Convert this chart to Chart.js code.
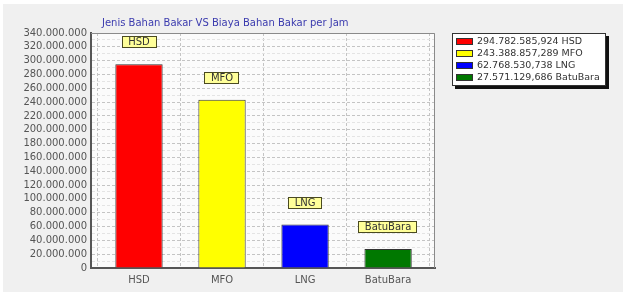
<!DOCTYPE html>
<html>
<head>
<meta charset="utf-8">
<script src="https://cdn.jsdelivr.net/npm/chart.js@4.4.1/dist/chart.umd.min.js"></script>
<style>
  html, body { margin: 0; padding: 0; background: #ffffff; }
  #wrap { width: 623px; height: 292px; }
</style>
</head>
<body>
<div id="wrap"><canvas id="graf" width="623" height="292"></canvas></div>
<script>
// data
var kategori = ['HSD', 'MFO', 'LNG', 'BatuBara'];
var biaya = [294782585.924, 243388857.289, 62768530.738, 27571129.686];
var warna = ['#ff0000', '#ffff00', '#0000ff', '#007800'];
var judul = 'Jenis Bahan Bakar VS Biaya Bahan Bakar per Jam';
var yMax = 340000000;
var yStep = 20000000;

var FONT = '"DejaVu Sans", Verdana, sans-serif';

function angka(v, des) { // format id: 1.234.567,890
    var s = des ? v.toFixed(des) : Math.round(v).toString();
    var p = s.split('.');
    var depan = p[0].replace(/\B(?=(\d{3})+(?!\d))/g, '.');
    return p.length > 1 ? depan + ',' + p[1] : depan;
}

var titik = kategori.map(function (k, i) {
    return { x: i, y: biaya[i] };
});

var latar = {
    id: 'latar',
    beforeDraw: function (chart) {
        var c = chart.ctx, a = chart.chartArea;
        c.save();
        c.fillStyle = '#ffffff';
        c.fillRect(0, 0, chart.width, chart.height);
        c.fillStyle = '#f0f0f0';
        c.fillRect(3, 4, chart.width - 3, chart.height - 4);
        c.fillStyle = '#fbfbfb';
        c.fillRect(a.left, a.top, a.right - a.left, a.bottom - a.top);
        c.restore();
    },
    afterDraw: function (chart) {
        var c = chart.ctx, a = chart.chartArea;
        c.save();
        // bingkai atas / kanan
        c.strokeStyle = '#8a8a8a';
        c.lineWidth = 1;
        c.beginPath();
        c.moveTo(a.left, a.top + 0.5);
        c.lineTo(a.right - 0.5, a.top + 0.5);
        c.lineTo(a.right - 0.5, a.bottom);
        c.stroke();

        // judul
        c.font = '10px ' + FONT;
        c.fillStyle = '#3a3aae';
        c.textBaseline = 'middle';
        c.textAlign = 'left';
        c.fillText(judul, a.left + 11, 23);

        // legenda
        var lx = 452, ly = 33, lw = 154, lh = 53;
        c.fillStyle = '#111111';
        c.fillRect(lx + 3, ly + 3, lw, lh);
        c.fillStyle = '#ffffff';
        c.fillRect(lx, ly, lw, lh);
        c.strokeStyle = '#333333';
        c.strokeRect(lx + 0.5, ly + 0.5, lw - 1, lh - 1);
        for (var i = 0; i < kategori.length; i++) {
            var yy = ly + 8 + i * 12;
            c.fillStyle = warna[i];
            c.fillRect(lx + 4, yy - 3, 17, 7);
            c.strokeStyle = '#333333';
            c.strokeRect(lx + 4.5, yy - 2.5, 16, 6);
            c.fillStyle = '#333333';
            c.font = '9.5px ' + FONT;
            c.fillText(angka(biaya[i], 3) + ' ' + kategori[i], lx + 25, yy + 0.5);
        }
        c.restore();
    }
};

var labelBatang = {
    id: 'labelBatang',
    afterDatasetsDraw: function (chart) {
        var c = chart.ctx;
        var meta = chart.getDatasetMeta(0);
        c.save();
        c.font = '10px ' + FONT;
        c.textAlign = 'center';
        c.textBaseline = 'middle';
        meta.data.forEach(function (bar, i) {
            var teks = kategori[i];
            var w = c.measureText(teks).width + 13;
            var h = 12;
            var cx = bar.x, cy = bar.y - 22;
            c.fillStyle = '#ffff99';
            c.fillRect(Math.round(cx - w / 2), Math.round(cy - h / 2), Math.round(w), h);
            c.strokeStyle = '#4a4a20';
            c.lineWidth = 1;
            c.strokeRect(Math.round(cx - w / 2) + 0.5, Math.round(cy - h / 2) + 0.5, Math.round(w) - 1, h - 1);
            c.fillStyle = '#333333';
            c.fillText(teks, cx, cy + 0.5);
        });
        c.restore();
    }
};

function tickVal(c) {
    return (c && c.tick) ? c.tick.value : null;
}

var ctx = document.getElementById('graf').getContext('2d');
var myChart = new Chart(ctx, {
    type: 'bar',
    data: {
        datasets: [{
            label: judul,
            data: titik,
            backgroundColor: warna,
            borderColor: '#333333',
            borderWidth: 1,
            barPercentage: 0.57,
            categoryPercentage: 1
        }]
    },
    options: {
        responsive: false,
        animation: false,
        devicePixelRatio: 1,
        layout: { padding: { top: 33, right: 188, bottom: 0, left: 0 } },
        plugins: {
            legend: { display: false },
            title: { display: false },
            tooltip: { enabled: false }
        },
        scales: {
            x: {
                type: 'linear',
                offset: false,
                min: -0.578,
                max: 3.565,
                afterFit: function (s) { s.height = 24; },
                border: { display: true, color: '#555555', width: 2, dash: [3, 2] },
                grid: {
                    drawTicks: false,
                    color: '#c4c4c4'
                },
                ticks: {
                    stepSize: 1,
                    includeBounds: false,
                    autoSkip: false,
                    maxRotation: 0,
                    padding: 6,
                    color: '#555555',
                    font: { family: FONT, size: 10 },
                    callback: function (v) {
                        return Number.isInteger(v) ? kategori[v] : '';
                    }
                }
            },
            y: {
                min: 0,
                max: yMax,
                afterFit: function (s) { s.width = 91; },
                border: { display: true, color: '#555555', width: 2, dash: [3, 2] },
                grid: {
                    drawTicks: false,
                    color: function (c) {
                        var v = tickVal(c);
                        return (v !== null && v % yStep === 0) ? '#c4c4c4' : '#e4e4e4';
                    }
                },
                ticks: {
                    stepSize: yStep / 2,
                    autoSkip: false,
                    padding: 4,
                    color: '#555555',
                    font: { family: FONT, size: 10 },
                    callback: function (v) {
                        return v % yStep === 0 ? angka(v) : '';
                    }
                }
            }
        }
    },
    plugins: [latar, labelBatang]
});
</script>
</body>
</html>
